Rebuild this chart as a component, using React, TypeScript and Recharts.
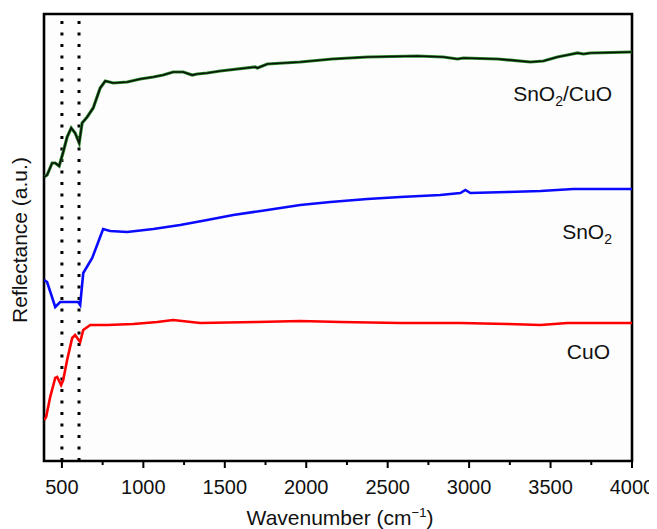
import React from "react";
import { LineChart, Line, XAxis, YAxis, ReferenceLine, ReferenceArea } from "recharts";

// Wavenumber (cm-1) and reflectance (a.u.)
const snCuWn = [391, 409, 440, 459, 483, 508, 532, 557, 581, 606, 624, 655, 692, 735, 766, 815, 901, 981, 1061, 1122, 1183, 1245, 1300, 1331, 1392, 1472, 1687, 1700, 1761, 1963, 2160, 2375, 2682, 2842, 2928, 2965, 3174, 3376, 3456, 3542, 3604, 3665, 3702, 3745, 4000];
const snCuVal = [284, 286, 298, 298, 295, 309, 324, 333, 328, 318, 338, 344, 353, 373, 380, 378, 379, 382, 384, 386, 389, 389, 386, 387, 388, 390, 394, 393, 397, 399, 402, 404, 405, 404, 402, 403, 402, 399, 400, 404, 406, 408, 407, 408, 409];

const snWn = [391, 409, 459, 489, 600, 612, 631, 686, 723, 753, 796, 901, 1061, 1226, 1392, 1552, 1761, 1963, 2148, 2375, 2578, 2823, 2946, 2977, 3008, 3235, 3438, 3640, 4000];
const snVal = [181, 179, 154, 159, 159, 156, 188, 203, 219, 232, 230, 229, 232, 236, 241, 246, 251, 256, 259, 262, 264, 266, 268, 271, 268, 269, 270, 272, 272];

const cuWn = [391, 403, 428, 459, 471, 495, 508, 532, 563, 581, 594, 612, 631, 674, 778, 938, 1085, 1183, 1349, 1699, 1963, 2209, 2578, 2946, 3235, 3438, 3604, 4000];
const cuVal = [41, 44, 64, 83, 84, 76, 81, 101, 123, 126, 123, 119, 131, 136, 136, 137, 139, 141, 138, 139, 140, 139, 138, 138, 137, 136, 138, 138];

const majorTicks = [500, 1000, 1500, 2000, 2500, 3000, 3500, 4000];
const minorTicks = [750, 1250, 1750, 2250, 2750, 3250, 3750];
const markerLines = [500, 605];

const toRows = (xs: number[], ys: number[]) => xs.map((wn, i) => ({ wn, v: ys[i] }));
const snCuData = toRows(snCuWn, snCuVal);
const snData = toRows(snWn, snVal);
const cuData = toRows(cuWn, cuVal);
const allTicks = [...majorTicks, ...minorTicks].sort((a, b) => a - b);

const FONT = '"Liberation Sans", Arial, Helvetica, sans-serif';

const Tick = (props: any) => {
  const { x, y, payload } = props;
  const major = majorTicks.includes(payload.value);
  return (
    <g>
      <line x1={x} x2={x} y1={y} y2={y + (major ? 7 : 4)} stroke="#000" strokeWidth={2} />
      {major && (
        <text x={x} y={y + 33} textAnchor="middle" fontFamily={FONT} fontSize={20} fill="#111">
          {payload.value}
        </text>
      )}
    </g>
  );
};

const labelStyle: React.CSSProperties = {
  position: "absolute",
  fontFamily: FONT,
  fontSize: 21,
  lineHeight: "20px",
  color: "#111",
  whiteSpace: "nowrap",
};
const subStyle: React.CSSProperties = { fontSize: 14, position: "relative", top: 5 };

export default function App() {
  return (
    <div style={{ position: "relative", width: 649, height: 521 }}>
      <LineChart width={649} height={513} margin={{ top: 6, right: 25, left: 36, bottom: 8 }}>
        <XAxis
          dataKey="wn"
          type="number"
          domain={[390, 4000]}
          allowDataOverflow
          ticks={allTicks}
          interval={0}
          tick={<Tick />}
          tickLine={false}
          axisLine={false}
          tickSize={0}
          tickMargin={0}
          height={52}
        />
        <YAxis hide type="number" domain={[0, 447]} allowDataOverflow />
        <ReferenceArea x1={390} x2={4000} y1={0} y2={447} fill="#fdfdfd" fillOpacity={1} stroke="none" />
        {markerLines.map((m) => (
          <ReferenceLine key={m} x={m} stroke="#000" strokeWidth={3} strokeDasharray="3 8.5" />
        ))}
        <Line data={cuData} dataKey="v" stroke="#ff0000" strokeWidth={2.6} dot={false} isAnimationActive={false} />
        <Line data={snData} dataKey="v" stroke="#0a0aff" strokeWidth={2.6} dot={false} isAnimationActive={false} />
        <Line data={snCuData} dataKey="v" stroke="#2c8a2c" strokeWidth={3.2} dot={false} isAnimationActive={false} />
        <Line data={snCuData} dataKey="v" stroke="#0a140a" strokeWidth={1.7} dot={false} isAnimationActive={false} />
        <ReferenceArea x1={390} x2={4000} y1={0} y2={447} fill="none" stroke="#000" strokeWidth={2.6} />
      </LineChart>
      <div style={{ ...labelStyle, right: 45, top: 76 }}>
        SnO<span style={subStyle}>2</span>/CuO
      </div>
      <div style={{ ...labelStyle, right: 45, top: 214 }}>
        SnO<span style={subStyle}>2</span>
      </div>
      <div style={{ ...labelStyle, right: 47, top: 334 }}>CuO</div>
      <div
        style={{
          ...labelStyle,
          left: 12 - 150,
          top: 232 - 10,
          width: 300,
          height: 20,
          textAlign: "center",
          transform: "rotate(-90deg)",
        }}
      >
        Reflectance (a.u.)
      </div>
      <div style={{ ...labelStyle, left: 332 - 150, top: 500, width: 300, textAlign: "center" }}>
        Wavenumber (cm<span style={{ fontSize: 13, position: "relative", top: -8 }}>−1</span>)
      </div>
    </div>
  );
}
